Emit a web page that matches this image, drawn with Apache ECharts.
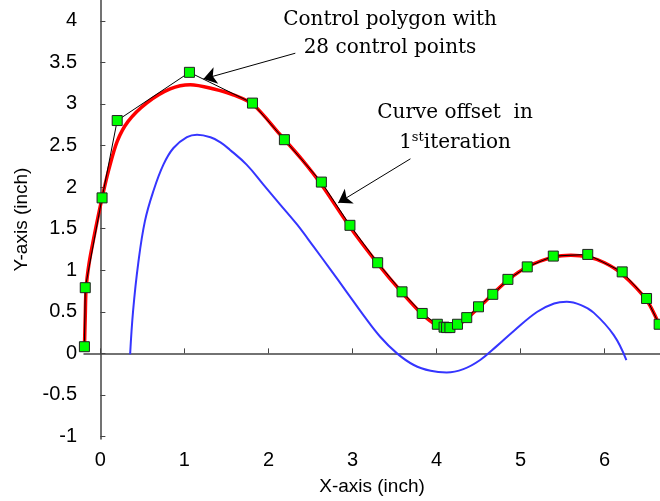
<!DOCTYPE html>
<html>
<head>
<meta charset="utf-8">
<script src="https://cdn.jsdelivr.net/npm/echarts@6/dist/echarts.min.js"></script>
<style>
    html, body { margin: 0; padding: 0; background: #fff; }
    #main { width: 660px; height: 501px; }
</style>
</head>
<body>
<div id="main"></div>
<script>
// control polygon (28 control points, 27 visible)
const ctrlX = [-0.19, -0.18, 0.02, 0.20, 1.06, 1.81, 2.19, 2.63, 2.97, 3.30, 3.59, 3.83, 4.01, 4.09, 4.12, 4.16, 4.25, 4.36, 4.50, 4.67, 4.85, 5.08, 5.39, 5.80, 6.21, 6.50, 6.65];
const ctrlY = [0.08, 0.79, 1.87, 2.80, 3.38, 3.01, 2.57, 2.06, 1.54, 1.09, 0.74, 0.48, 0.35, 0.315, 0.31, 0.31, 0.35, 0.43, 0.56, 0.71, 0.89, 1.04, 1.17, 1.19, 0.98, 0.66, 0.35];

// red B-spline curve
const curveX = [-0.19, -0.18, -0.17, -0.135, -0.08, 0.02, 0.10, 0.20, 0.33, 0.55, 0.83, 1.07, 1.35, 1.58, 1.82, 2.14, 2.40, 2.63, 2.97, 3.30, 3.59, 3.83, 4.00, 4.12, 4.30, 4.50, 4.85, 5.10, 5.40, 5.60, 5.80, 6.00, 6.20, 6.50, 6.66];
const curveY = [0.06, 0.45, 0.78, 1.08, 1.38, 1.87, 2.21, 2.55, 2.79, 3.01, 3.18, 3.23, 3.18, 3.11, 2.99, 2.63, 2.33, 2.03, 1.52, 1.08, 0.73, 0.47, 0.34, 0.31, 0.37, 0.55, 0.88, 1.05, 1.16, 1.18, 1.16, 1.09, 0.96, 0.64, 0.32];

// blue offset curve (1st iteration)
const offsetX = [0.354, 0.39, 0.45, 0.53, 0.63, 0.75, 0.87, 1.03, 1.15, 1.31, 1.425, 1.54, 1.74, 1.94, 2.14, 2.34, 2.54, 2.73, 2.93, 3.13, 3.33, 3.53, 3.73, 3.93, 4.12, 4.32, 4.52, 4.72, 4.92, 5.20, 5.40, 5.55, 5.72, 5.87, 6.11, 6.26];
const offsetY = [-0.01, 0.52, 1.08, 1.59, 1.95, 2.27, 2.47, 2.60, 2.63, 2.60, 2.54, 2.45, 2.27, 2.03, 1.79, 1.55, 1.28, 1.02, 0.74, 0.46, 0.2, 0.0, -0.14, -0.21, -0.23, -0.19, -0.08, 0.09, 0.27, 0.50, 0.60, 0.62, 0.58, 0.49, 0.22, -0.08];

const xTicks = [0, 1, 2, 3, 4, 5, 6];
const yTicks = [-1, -0.5, 0, 0.5, 1, 1.5, 2, 2.5, 3, 3.5, 4];

// arrows: [from, to] in data coords
const arrowPolygon = [[2.32, 3.61], [1.226, 3.30]];
const arrowOffset = [[3.69, 2.34], [2.83, 1.81]];

const zip = (xs, ys) => xs.map((x, i) => [x, ys[i]]);

const chart = echarts.init(document.getElementById('main'));

const axisFont = { fontFamily: 'Liberation Sans', fontSize: 20, color: '#000' };
const serif = 'DejaVu Serif';

const option = {
    animation: false,
    backgroundColor: '#fff',
    grid: { left: 84, right: 0, top: 0, bottom: 60 },
    xAxis: {
        type: 'value',
        min: -0.195,
        max: 6.66,
        name: 'X-axis (inch)',
        nameLocation: 'middle',
        nameGap: 38,
        nameTextStyle: { fontFamily: 'Liberation Sans', fontSize: 19, color: '#000' },
        axisLine: { lineStyle: { color: '#444', width: 1.5 } },
        axisTick: { inside: true, length: 5, customValues: xTicks, lineStyle: { color: '#444' } },
        axisLabel: Object.assign({ customValues: xTicks, margin: 11 }, axisFont),
        splitLine: { show: false }
    },
    yAxis: {
        type: 'value',
        min: -1.03,
        max: 4.25,
        name: 'Y-axis (inch)',
        nameLocation: 'middle',
        nameGap: 52,
        nameTextStyle: { fontFamily: 'Liberation Sans', fontSize: 19, color: '#000' },
        axisLine: { show: true, lineStyle: { color: '#444', width: 1.5 } },
        axisTick: { show: true, inside: true, length: 5, customValues: yTicks, lineStyle: { color: '#444' } },
        axisLabel: Object.assign({ customValues: yTicks, margin: 7 }, axisFont),
        splitLine: { show: false }
    },
    // annotation texts
    graphic: [
        {
            type: 'text', x: 390, y: 34,
            style: {
                text: 'Control polygon with\n28 control points',
                font: '20px "' + serif + '"', fill: '#000',
                align: 'center', verticalAlign: 'middle', lineHeight: 28
            }
        },
        {
            type: 'text', x: 455, y: 113,
            style: {
                text: 'Curve offset  in',
                font: '20px "' + serif + '"', fill: '#000',
                align: 'center', verticalAlign: 'middle'
            }
        },
        {
            type: 'text', x: 455, y: 143,
            style: {
                text: '{n|1}{s|st}{n|iteration}',
                align: 'center', verticalAlign: 'middle',
                rich: {
                    n: { fontFamily: serif, fontSize: 20, lineHeight: 24, color: '#000' },
                    s: { fontFamily: serif, fontSize: 13, lineHeight: 24, verticalAlign: 'top', color: '#000' }
                }
            }
        }
    ],
    series: [
        {
            name: 'offset',
            type: 'line',
            data: zip(offsetX, offsetY),
            smooth: 0.4,
            showSymbol: false,
            lineStyle: { color: '#3535ff', width: 2 },
            z: 2
        },
        {
            name: 'curve',
            type: 'line',
            data: zip(curveX, curveY),
            smooth: 0.3,
            showSymbol: false,
            lineStyle: { color: '#ff0000', width: 3.5 },
            z: 3
        },
        {
            name: 'control polygon',
            type: 'line',
            data: zip(ctrlX, ctrlY),
            symbol: 'rect',
            symbolSize: 10,
            itemStyle: { color: '#00ff00', borderColor: '#222', borderWidth: 1 },
            lineStyle: { color: '#000', width: 1 },
            z: 4,
            markLine: {
                silent: true,
                symbol: ['none', 'arrow'],
                symbolSize: 13,
                label: { show: false },
                lineStyle: { color: '#000', width: 1, type: 'solid' },
                data: [
                    [{ coord: arrowPolygon[0] }, { coord: arrowPolygon[1] }],
                    [{ coord: arrowOffset[0] }, { coord: arrowOffset[1] }]
                ]
            }
        }
    ]
};

chart.setOption(option);
</script>
</body>
</html>
